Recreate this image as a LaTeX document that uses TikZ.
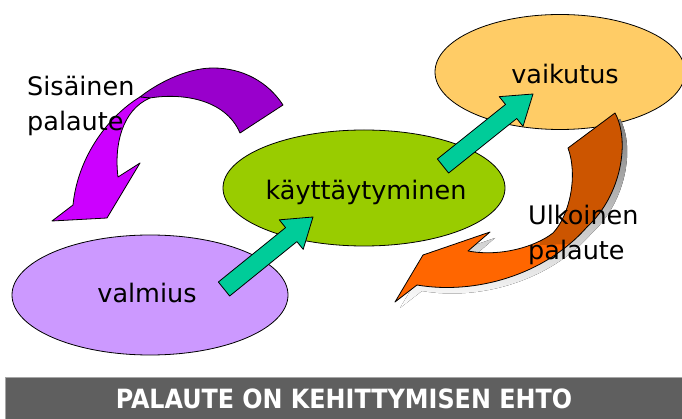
\documentclass[tikz,border=0pt]{standalone}
\usepackage{fontspec}
\setmainfont{DejaVu Sans}
\newfontfamily\titlefont{DejaVu Sans Condensed}[BoldFont={DejaVu Sans Condensed Bold}]
\usetikzlibrary{shapes.geometric,calc}

\definecolor{lavender}{RGB}{204,153,255}
\definecolor{leaf}{RGB}{153,204,0}
\definecolor{sand}{RGB}{255,204,102}
\definecolor{mint}{RGB}{0,204,153}
\definecolor{violetdark}{RGB}{153,0,204}
\definecolor{violetlight}{RGB}{204,0,255}
\definecolor{rustdark}{RGB}{204,85,0}
\definecolor{rustlight}{RGB}{255,102,0}
\definecolor{shade}{RGB}{128,128,128}
\definecolor{bargray}{RGB}{95,95,95}

\tikzset{
  bubble/.style={ellipse, draw=black, line width=0.8pt, inner sep=0pt},
  outl/.style={draw=black, line width=0.8pt, line join=round},
  txt/.style={font=\fontsize{25.5}{30}\selectfont, inner sep=0pt, anchor=base},
  lbl/.style={txt, anchor=base west},
}

% straight block arrow between two named coordinates
\newcommand\blockarrow[2]{%
  \coordinate (neck) at ($(#2)!28pt!(#1)$);
  \filldraw[fill=mint, outl]
    ($(#1)!9pt!90:(#2)$) -- ($(neck)!9pt!90:(#2)$) -- ($(neck)!19pt!90:(#2)$)
    -- (#2)
    -- ($(neck)!19pt!-90:(#2)$) -- ($(neck)!9pt!-90:(#2)$) -- ($(#1)!9pt!-90:(#2)$)
    -- cycle;
}

% outline of the curved orange feedback arrow
\newcommand\ulkoband{(615,113) .. controls (630,140) and (622,195) .. (587,227)
  .. controls (545,275) and (475,295) .. (417,285) -- (395,302) -- (423,255)
  -- (490,232) -- (468,251) .. controls (500,257) and (535,247) .. (553,233)
  .. controls (570,215) and (578,175) .. (568,148) -- cycle}

\begin{document}
\begin{tikzpicture}[x=1pt,y=-1pt]
\useasboundingbox (0,0) rectangle (682,419);

% the three stages
\node[bubble, fill=lavender, minimum width=276pt, minimum height=120pt] (valmius) at (150,295) {};
\node[bubble, fill=leaf, minimum width=282pt, minimum height=116pt] (kaytt) at (364,188) {};
\node[bubble, fill=sand, minimum width=250pt, minimum height=115pt] (vaikutus) at (560,72) {};

% inner feedback: back part, then front part with the head
\filldraw[fill=violetdark, outl] (283,105) .. controls (268,82) and (243,68) .. (213,68)
  .. controls (185,68) and (155,85) .. (140,97) -- (150,98)
  .. controls (180,93) and (225,98) .. (240,133) -- cycle;
\filldraw[fill=violetlight, outl] (140,97) .. controls (110,115) and (78,155) .. (73,205)
  -- (52,221) -- (107,218) -- (140,163) -- (118,177)
  .. controls (114,145) and (122,110) .. (150,98) -- cycle;

% outer feedback with its drop shadow
\fill[shade, shift={(5,6)}] \ulkoband;
\fill[rustlight] \ulkoband;
\begin{scope}
  \clip (540,245) -- (530,90) -- (700,90) -- (700,240) -- cycle;
  \fill[rustdark] \ulkoband;
\end{scope}
\draw[outl] \ulkoband;

% forward arrows
\coordinate (t1) at (224,289);
\coordinate (h1) at (313,217);
\coordinate (t2) at (443,166);
\coordinate (h2) at (533,94);
\blockarrow{t1}{h1}
\blockarrow{t2}{h2}

% labels
\node[txt] (valmiustxt) at (147,302) {valmius};
\node[txt] (kaytttxt) at (366,200) {käyttäytyminen};
\node[txt] (vaikutustxt) at (565,84) {vaikutus};
\node[lbl] (sis1) at (27,96) {Sisäinen};
\node[lbl] (sis2) at (27,131) {palaute};
\node[lbl] (ulk1) at (528,225) {Ulkoinen};
\node[lbl] (ulk2) at (528,260) {palaute};

% title bar
\node[fill=bargray, draw=gray!70, line width=1pt, minimum width=678pt, minimum height=43pt,
      inner sep=0pt, text=white, font=\titlefont\bfseries\fontsize{26.5}{30}\selectfont]
  (bar) at (344,398.5) {PALAUTE ON KEHITTYMISEN EHTO};
\end{tikzpicture}
\end{document}
